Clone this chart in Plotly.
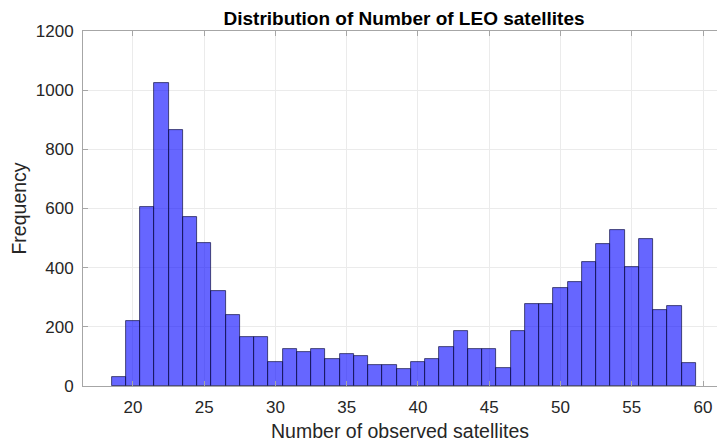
import plotly.graph_objects as go

# Bin centres (bin width 1) and frequencies
bin_centers = list(range(19, 60))
frequency = [30, 220, 605, 1025, 865, 570, 485, 322, 240, 167,
             167, 80, 125, 115, 125, 90, 108, 103, 72, 72,
             56, 80, 90, 132, 187, 125, 125, 60, 187, 277,
             277, 330, 353, 420, 480, 528, 402, 497, 258, 270,
             78]
x_ticks = [20, 25, 30, 35, 40, 45, 50, 55, 60]
y_ticks = [0, 200, 400, 600, 800, 1000, 1200]

FONT = "Liberation Sans, Arial, Helvetica, sans-serif"
TXT = "#262626"
AX = "#a6a6a6"
GRID = "#ebebeb"

fig = go.Figure()
fig.add_trace(go.Bar(
    x=bin_centers, y=frequency, width=1,
    marker=dict(color="rgba(0,0,255,0.6)",
                line=dict(color="rgba(10,10,60,0.85)", width=0.8)),
    showlegend=False,
))

fig.update_layout(
    width=717, height=442,
    margin=dict(l=83, r=0, t=31, b=56),
    paper_bgcolor="white", plot_bgcolor="white",
    bargap=0,
    font=dict(family=FONT, color=TXT, size=17),
    title=dict(text="<b>Distribution of Number of LEO satellites</b>",
               x=404 / 717, xref="container", xanchor="center",
               y=1 - 18 / 442, yref="container", yanchor="middle",
               font=dict(family=FONT, size=19, color="black")),
)
fig.update_xaxes(
    range=[16.5, 60.98], tickvals=x_ticks, ticktext=[str(v) for v in x_ticks],
    showgrid=True, gridcolor=GRID, gridwidth=1,
    showline=True, linecolor=AX, linewidth=1, mirror="ticks",
    ticks="inside", ticklen=5, tickcolor=AX,
    tickfont=dict(size=17, color=TXT), ticklabelstandoff=6,
    zeroline=False,
    title=dict(text="Number of observed satellites", font=dict(size=19.5, color=TXT), standoff=7),
)
fig.update_yaxes(
    range=[0, 1200], tickvals=y_ticks, ticktext=[str(v) for v in y_ticks],
    showgrid=True, gridcolor=GRID, gridwidth=1,
    showline=True, linecolor=AX, linewidth=1,
    ticks="inside", ticklen=5, tickcolor=AX,
    tickfont=dict(size=17, color=TXT), ticklabelstandoff=5,
    zeroline=False,
    title=dict(text="Frequency", font=dict(size=19.5, color=TXT), standoff=3),
)

fig.write_html("out.html")
